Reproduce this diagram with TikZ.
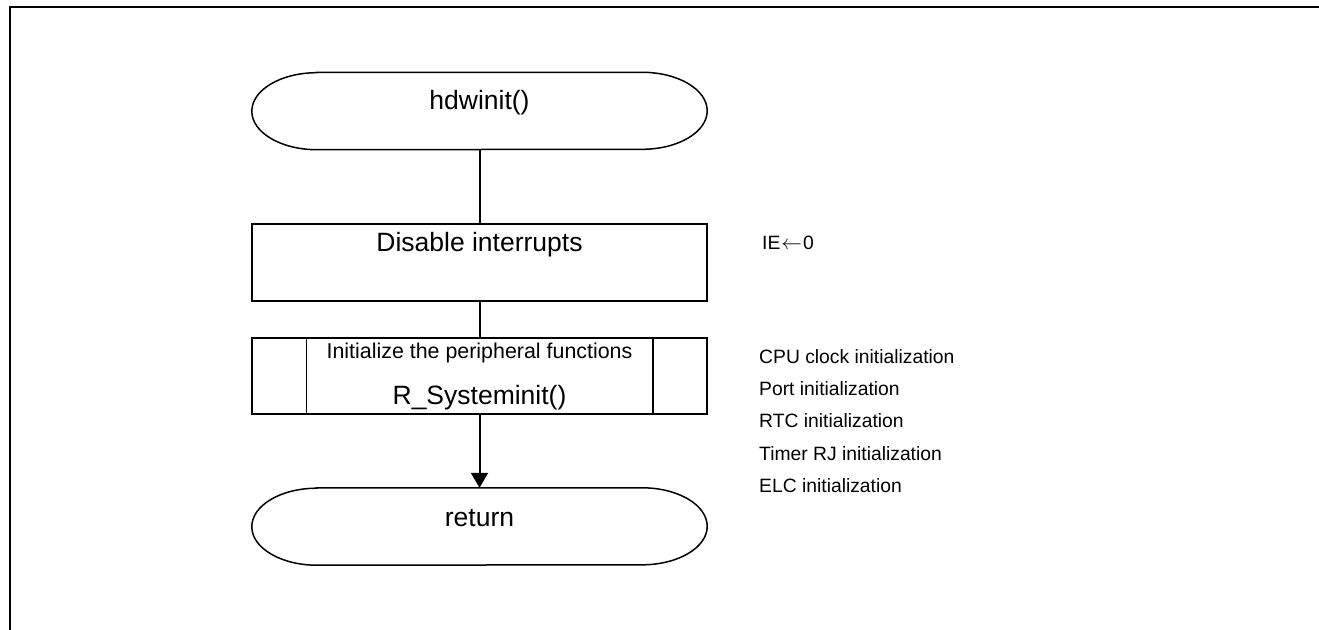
\documentclass[tikz,border=0pt]{standalone}
\usepackage{fontspec}
\setmainfont{Liberation Sans}
\usetikzlibrary{arrows.meta}
\newcommand\flowfont{\fontsize{26.5}{30}\selectfont}
\newcommand\subfont{\fontsize{21.4}{25}\selectfont}
\newcommand\notefont{\fontsize{19.3}{23}\selectfont}
\tikzset{
  frameline/.style={line width=2.2pt},
  shapeline/.style={line width=1.5pt},
  flowline/.style={line width=2pt},
  boxshape/.style={shapeline, draw, minimum width=455pt, minimum height=77pt,
    inner sep=0pt, font=\flowfont},
  termshape/.style={minimum width=455pt, minimum height=77pt, inner sep=0pt,
    font=\flowfont},
  note/.style={anchor=base west, inner sep=0pt, font=\notefont},
}
\begin{document}
\begin{tikzpicture}[x=1pt,y=1pt]
\useasboundingbox (0,0) rectangle (1319,-629);
% frame (top and left edges)
\draw[frameline] (1330,-7) -- (10,-7) -- (10,-640);

% start terminal
\node[termshape, label={[yshift=8pt, font=\flowfont]center:hdwinit()}] (start) at (479.5,-111) {};
\draw[shapeline] ([xshift=65pt]start.north west) -- ([xshift=-65pt]start.north east)
  arc[start angle=90, end angle=-90, x radius=65pt, y radius=38.5pt]
  -- ([xshift=65pt]start.south west)
  arc[start angle=270, end angle=90, x radius=65pt, y radius=38.5pt] -- cycle;

% process box
\node[boxshape, label={[yshift=17.5pt, font=\flowfont]center:Disable interrupts}] (dis) at (479.5,-262.5) {};

% predefined process
\node[boxshape, minimum height=76pt,
  label={[yshift=23pt, font=\subfont]center:Initialize the peripheral functions},
  label={[yshift=-22pt, font=\flowfont]center:R\_Systeminit()}] (sys) at (479.5,-376) {};
\draw[shapeline] ([xshift=55pt]sys.north west) -- ([xshift=55pt]sys.south west);
\draw[shapeline] ([xshift=-55pt]sys.north east) -- ([xshift=-55pt]sys.south east);

% end terminal
\node[termshape, label={[yshift=8.5pt, font=\flowfont]center:return}] (ret) at (479.5,-526.5) {};
\draw[shapeline] ([xshift=65pt]ret.north west) -- ([xshift=-65pt]ret.north east)
  arc[start angle=90, end angle=-90, x radius=65pt, y radius=38.5pt]
  -- ([xshift=65pt]ret.south west)
  arc[start angle=270, end angle=90, x radius=65pt, y radius=38.5pt] -- cycle;

% connectors
\draw[flowline] (start.south) -- (dis.north);
\draw[flowline] (dis.south) -- (sys.north);
\draw[flowline, -{Triangle[width=17pt, length=15pt]}] (sys.south) -- (ret.north);

% notes
\node[note] (ie) at (762,-249) {IE\kern1pt$\leftarrow$\kern1pt0};
\node[note] (n1) at (759,-363) {CPU clock initialization};
\node[note] (n2) at (759,-395.4) {Port initialization};
\node[note] (n3) at (759,-427.8) {RTC initialization};
\node[note] (n4) at (759,-460.2) {Timer RJ initialization};
\node[note] (n5) at (759,-492.6) {ELC initialization};
\end{tikzpicture}
\end{document}
